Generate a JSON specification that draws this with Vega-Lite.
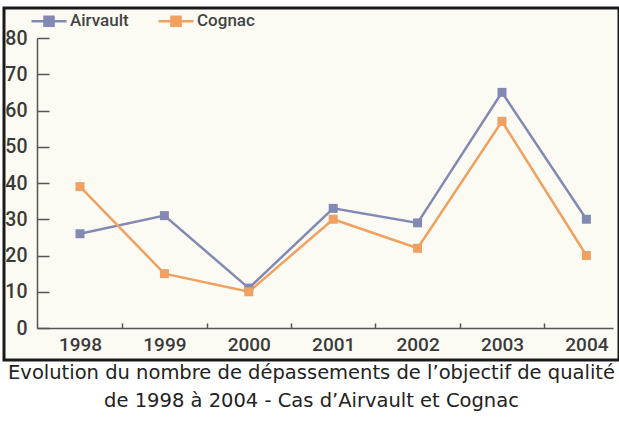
{
  "$schema": "https://vega.github.io/schema/vega-lite/v6.json",
  "width": 615,
  "height": 352,
  "autosize": {"type": "none"},
  "padding": {"left": 4, "top": 8, "right": 0, "bottom": 62},
  "background": "white",
  "config": {
    "view": {"fill": "#fbfbf3", "stroke": "#1a1a1a", "strokeWidth": 3}
  },
  "title": {
    "text": ["Evolution du nombre de dépassements de l’objectif de qualité", "de 1998 à 2004 - Cas d’Airvault et Cognac"],
    "orient": "bottom",
    "anchor": "middle",
    "font": "DejaVu Sans",
    "fontSize": 19.5,
    "fontWeight": "normal",
    "color": "#222222",
    "offset": 4,
    "lineHeight": 28,
    "baseline": "top"
  },
  "data": {
    "values": [
      {"year": 1998, "site": "Airvault", "value": 26},
      {"year": 1999, "site": "Airvault", "value": 31},
      {"year": 2000, "site": "Airvault", "value": 11},
      {"year": 2001, "site": "Airvault", "value": 33},
      {"year": 2002, "site": "Airvault", "value": 29},
      {"year": 2003, "site": "Airvault", "value": 65},
      {"year": 2004, "site": "Airvault", "value": 30},
      {"year": 1998, "site": "Cognac", "value": 39},
      {"year": 1999, "site": "Cognac", "value": 15},
      {"year": 2000, "site": "Cognac", "value": 10},
      {"year": 2001, "site": "Cognac", "value": 30},
      {"year": 2002, "site": "Cognac", "value": 22},
      {"year": 2003, "site": "Cognac", "value": 57},
      {"year": 2004, "site": "Cognac", "value": 20}
    ]
  },
  "encoding": {
    "x": {
      "field": "year",
      "type": "quantitative",
      "scale": {"domain": [1997.4905, 2004.3152], "range": [33, 609], "nice": false, "zero": false},
      "axis": {
        "orient": "bottom",
        "offset": -32,
        "values": [1998, 1999, 2000, 2001, 2002, 2003, 2004],
        "format": "d",
        "tickOffset": 42.2,
        "labelOffset": -42.2,
        "tickSize": -5,
        "tickColor": "#555555",
        "tickWidth": 1.5,
        "domainColor": "#555555",
        "domainWidth": 1.5,
        "grid": false,
        "title": null,
        "labelFont": "Roboto",
        "labelFontSize": 19,
        "labelFontWeight": 500,
        "labelColor": "#3a3a3a",
        "labelPadding": 12,
        "labelBaseline": "top",
        "labelFlush": false,
        "labelOverlap": false
      }
    },
    "y": {
      "field": "value",
      "type": "quantitative",
      "scale": {"domain": [0, 80], "range": [320, 30], "nice": false},
      "axis": {
        "orient": "left",
        "offset": -33,
        "values": [0, 10, 20, 30, 40, 50, 60, 70, 80],
        "tickSize": -12,
        "tickColor": "#555555",
        "tickWidth": 1.5,
        "domainColor": "#555555",
        "domainWidth": 1.5,
        "grid": false,
        "title": null,
        "labelFont": "Roboto",
        "labelFontSize": 19.5,
        "labelFontWeight": 500,
        "labelColor": "#3a3a3a",
        "labelPadding": 22,
        "labelAlign": "right",
        "labelBaseline": "middle",
        "labelFlush": false,
        "labelOverlap": false
      }
    },
    "color": {
      "field": "site",
      "type": "nominal",
      "scale": {"domain": ["Airvault", "Cognac"], "range": ["#8489b3", "#f0a060"]},
      "legend": {
        "orient": "none",
        "legendX": 26,
        "legendY": -6,
        "direction": "horizontal",
        "title": null,
        "padding": 0,
        "symbolType": "M-1,0H1M-0.26,-0.26H0.26V0.26H-0.26Z",
        "symbolSize": 1225,
        "symbolStrokeWidth": 2.5,
        "labelFont": "Roboto",
        "labelFontSize": 17,
        "labelFontWeight": 500,
        "labelColor": "#444444",
        "labelOffset": 2,
        "columnPadding": 24,
        "encode": {
          "symbols": {
            "update": {
              "fill": {"scale": "color", "field": "value"},
              "stroke": {"scale": "color", "field": "value"},
              "opacity": {"value": 1}
            }
          }
        }
      }
    }
  },
  "layer": [
    {"mark": {"type": "line", "strokeWidth": 2.5}},
    {"mark": {"type": "square", "size": 81, "filled": true, "opacity": 1}}
  ]
}
